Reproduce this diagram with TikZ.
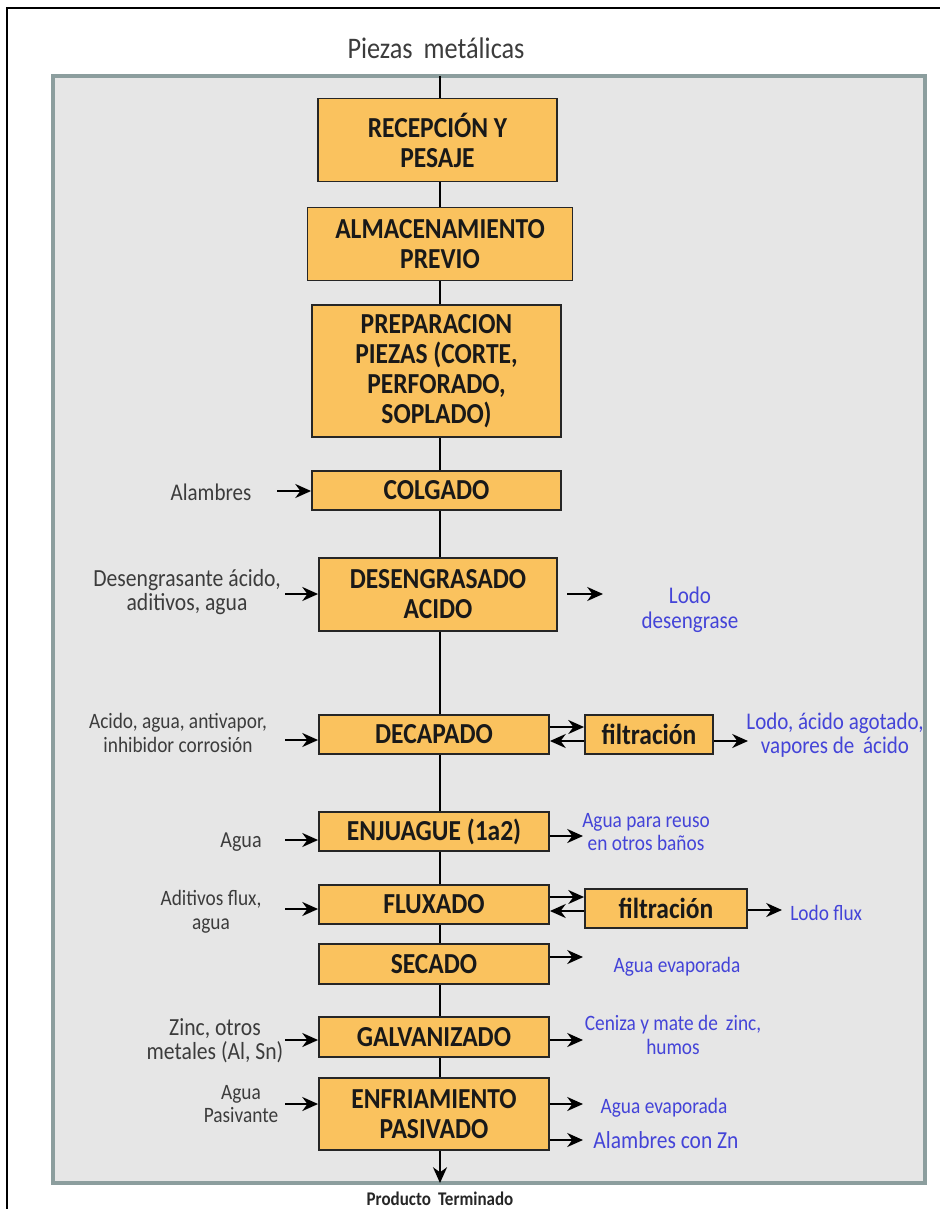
\documentclass[tikz,border=0pt]{standalone}
\usepackage{fontspec}
\setmainfont{Carlito}[FakeStretch=0.88]
\usetikzlibrary{arrows.meta}

\definecolor{boxfill}{HTML}{FAC25E}
\definecolor{panelfill}{HTML}{E6E6E6}
\definecolor{panelline}{HTML}{8C9E9E}
\definecolor{outblue}{HTML}{4444D8}
\definecolor{ingray}{HTML}{3C3C3C}

\tikzset{
  etapa/.style={draw=black!85, line width=1.1pt, fill=boxfill, inner sep=0pt,
    align=center, text=black!90, font=\fontsize{16.5}{17}\selectfont\bfseries},
  entrada/.style={text=ingray, align=center, inner sep=0pt,
    font=\fontsize{12.5}{13.5}\selectfont},
  salida/.style={text=outblue, align=center, inner sep=0pt,
    font=\fontsize{12.5}{13.5}\selectfont},
  flecha/.style={-{Stealth[length=9pt,width=8pt]}, line width=1.1pt},
  linea/.style={line width=0.8pt}
}

\begin{document}
\begin{tikzpicture}[x=0.02cm, y=-0.02cm]
    % Page size of the reference (940 x 1209 px)
    \useasboundingbox (0,0) rectangle (940,1209);

    % Outer black frame and grey panel
    \draw[line width=1.6pt] (7,1209) -- (7,8) -- (940,8);
    \draw[panelline, fill=panelfill, line width=2.4pt] (53,76) rectangle (925,1183);

    % Axis of the main flow
    \coordinate (eje) at (440,0);
    \coordinate (arriba) at (440,76);
    \coordinate (abajo) at (440,1183);

    \node[font=\fontsize{17}{19}\selectfont, text=ingray] (piezas) at (436,48) {Piezas\, metálicas};

    % Process steps
    \node[etapa, minimum width=4.78cm, minimum height=1.66cm] (recep) at (437.5,140) {RECEPCIÓN Y\\PESAJE};
    \node[etapa, minimum width=5.3cm, minimum height=1.46cm] (almac) at (440,244) {ALMACENAMIENTO\\PREVIO};
    \node[etapa, minimum width=4.98cm, minimum height=2.64cm] (prepa) at (436.5,371) {PREPARACION\\PIEZAS (CORTE,\\PERFORADO,\\SOPLADO)};
    \node[etapa, minimum width=4.98cm, minimum height=0.78cm] (colga) at (436.5,490.5) {COLGADO};
    \node[etapa, minimum width=4.76cm, minimum height=1.46cm] (desen) at (438,594.5) {DESENGRASADO\\ACIDO};
    \node[etapa, minimum width=4.6cm, minimum height=0.78cm] (decap) at (434,734.5) {DECAPADO};
    \node[etapa, minimum width=2.56cm, minimum height=0.78cm] (filtA) at (649,734.5) {filtración};
    \node[etapa, minimum width=4.6cm, minimum height=0.78cm] (enjua) at (434,831.5) {ENJUAGUE (1a2)};
    \node[etapa, minimum width=4.6cm, minimum height=0.78cm] (fluxa) at (434,904.5) {FLUXADO};
    \node[etapa, minimum width=3.24cm, minimum height=0.78cm] (filtB) at (666,908.5) {filtración};
    \node[etapa, minimum width=4.6cm, minimum height=0.8cm] (secad) at (434,964) {SECADO};
    \node[etapa, minimum width=4.6cm, minimum height=0.8cm] (galva) at (434,1037) {GALVANIZADO};
    \node[etapa, minimum width=4.6cm, minimum height=1.44cm] (enfri) at (434,1114) {ENFRIAMIENTO\\PASIVADO};

    % Main vertical line
    \draw[linea] (arriba) -- (recep.north -| eje);
    \draw[linea] (recep.south -| eje) -- (almac.north -| eje);
    \draw[linea] (almac.south -| eje) -- (prepa.north -| eje);
    \draw[linea] (prepa.south -| eje) -- (colga.north -| eje);
    \draw[linea] (colga.south -| eje) -- (desen.north -| eje);
    \draw[linea] (desen.south -| eje) -- (decap.north -| eje);
    \draw[linea] (decap.south -| eje) -- (enjua.north -| eje);
    \draw[linea] (enjua.south -| eje) -- (fluxa.north -| eje);
    \draw[linea] (fluxa.south -| eje) -- (secad.north -| eje);
    \draw[linea] (secad.south -| eje) -- (galva.north -| eje);
    \draw[linea] (galva.south -| eje) -- (enfri.north -| eje);
    \draw[flecha] (enfri.south -| eje) -- (abajo);

    \node[font=\fontsize{11}{12}\selectfont\bfseries, text=black!85] (producto) at (440,1199) {Producto\, Terminado};

    % Inputs (left)
    \node[entrada, font=\fontsize{13.6}{14}\selectfont] (inColga) at (211,492) {Alambres};
    \node[entrada, font=\fontsize{14}{13.6}\selectfont] (inDesen) at (187,592) {Desengrasante ácido,\\aditivos, agua};
    \node[entrada] (inDecap) at (178,733) {Acido, agua, antivapor,\\inhibidor corrosión};
    \node[entrada, font=\fontsize{13}{14}\selectfont] (inEnjua) at (241,842) {Agua};
    \node[entrada] (inFluxa) at (211,912) {Aditivos flux,\\agua};
    \node[entrada, font=\fontsize{14}{13.4}\selectfont] (inGalva) at (215,1041) {Zinc, otros\\metales (Al, Sn)};
    \node[entrada] (inEnfri) at (241,1104) {Agua\\Pasivante};

    \coordinate (pColga) at (277,491);
    \coordinate (pDesen) at (285,594);
    \coordinate (pDecap) at (285,740);
    \coordinate (pEnjua) at (285,840);
    \coordinate (pFluxa) at (285,909);
    \coordinate (pGalva) at (285,1040);
    \coordinate (pEnfri) at (285,1104);
    \draw[flecha] (pColga) -- (pColga -| colga.west);
    \draw[flecha] (pDesen) -- (pDesen -| desen.west);
    \draw[flecha] (pDecap) -- (pDecap -| decap.west);
    \draw[flecha] (pEnjua) -- (pEnjua -| enjua.west);
    \draw[flecha] (pFluxa) -- (pFluxa -| fluxa.west);
    \draw[flecha] (pGalva) -- (pGalva -| galva.west);
    \draw[flecha] (pEnfri) -- (pEnfri -| enfri.west);

    % Filtration loops
    \draw[flecha] (decap.east |- 0,727) -- (filtA.west |- 0,727);
    \draw[flecha] (filtA.west |- 0,741) -- (decap.east |- 0,741);
    \draw[flecha] (fluxa.east |- 0,897) -- (filtB.west |- 0,897);
    \draw[flecha] (filtB.west |- 0,911) -- (fluxa.east |- 0,911);

    % Outputs (right)
    \node[salida, font=\fontsize{13.6}{14.5}\selectfont] (outDesen) at (690,610) {Lodo\\desengrase};
    \node[salida, font=\fontsize{13.6}{14}\selectfont] (outFiltA) at (835,735) {Lodo, ácido agotado,\\vapores de\, ácido};
    \node[salida] (outEnjua) at (646,832) {Agua para reuso\\en otros baños};
    \node[salida, anchor=west] (outFiltB) at (790,913) {Lodo flux};
    \node[salida] (outSecad) at (677,967) {Agua evaporada};
    \node[salida] (outGalva) at (673,1035) {Ceniza y mate de\, zinc,\\humos};
    \node[salida] (outEnfA) at (664,1108) {Agua evaporada};
    \node[salida, font=\fontsize{13.9}{15}\selectfont] (outEnfB) at (666,1140) {Alambres con Zn};

    \coordinate (qDesen) at (567,594);
    \coordinate (qFiltA) at (748,741);
    \coordinate (qEnjua) at (583,836);
    \coordinate (qFiltB) at (782,910);
    \coordinate (qSecad) at (583,957);
    \coordinate (qGalva) at (583,1040);
    \coordinate (qEnfA) at (583,1104);
    \coordinate (qEnfB) at (583,1140);
    \draw[flecha] (qDesen) -- (qDesen -| 603,0);
    \draw[flecha] (qFiltA -| filtA.east) -- (qFiltA);
    \draw[flecha] (qEnjua -| enjua.east) -- (qEnjua);
    \draw[flecha] (qFiltB -| filtB.east) -- (qFiltB);
    \draw[flecha] (qSecad -| secad.east) -- (qSecad);
    \draw[flecha] (qGalva -| galva.east) -- (qGalva);
    \draw[flecha] (qEnfA -| enfri.east) -- (qEnfA);
    \draw[flecha] (qEnfB -| enfri.east) -- (qEnfB);

\end{tikzpicture}
\end{document}
